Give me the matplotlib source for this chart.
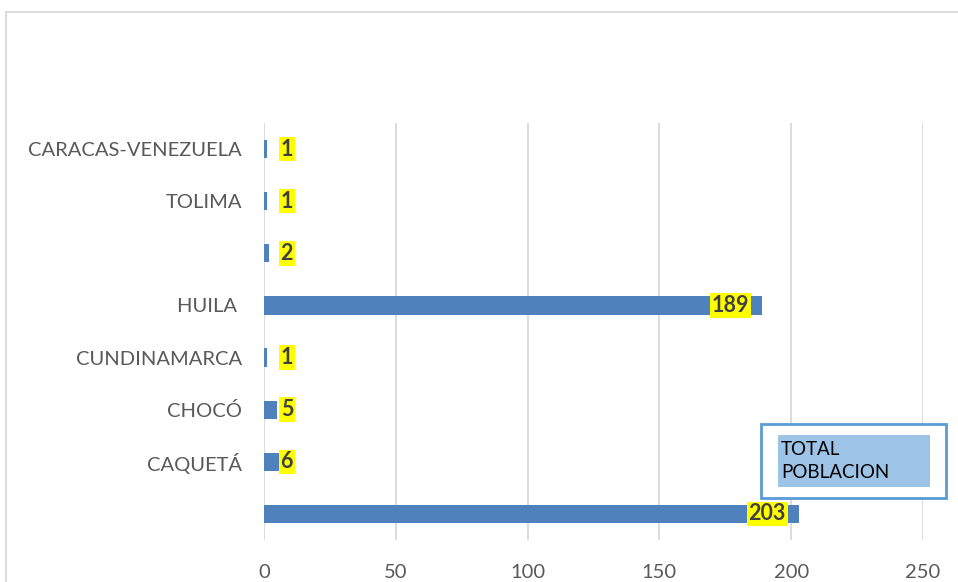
import matplotlib
matplotlib.use("Agg")
import matplotlib.pyplot as plt
from matplotlib.patches import Rectangle
from matplotlib.lines import Line2D

categories = ["", "CAQUETÁ", "CHOCÓ", "CUNDINAMARCA", "HUILA ", "", "TOLIMA", "CARACAS-VENEZUELA"]
values = [203, 6, 5, 1, 189, 2, 1, 1]
xticks = [0, 50, 100, 150, 200, 250]
legend_label = "TOTAL\nPOBLACION"

W, H = 958, 582
fig = plt.figure(figsize=(W / 100, H / 100), dpi=100)
font = "Lato"

ax = fig.add_axes([264 / W, (H - 540) / H, (923 - 264) / W, (540 - 123) / H])
ypos = list(range(len(categories)))
ax.barh(ypos, values, height=0.35, color="#4f81bd", zorder=3)
ax.set_xlim(0, 250)
ax.set_ylim(-0.5, len(categories) - 0.5)
ax.set_xticks(xticks)
ax.set_xticklabels([str(t) for t in xticks], fontsize=14.5, color="#595959", family=font)
ax.set_yticks(ypos)
ax.set_yticklabels(categories, fontsize=14.5, color="#595959", family=font)
ax.tick_params(axis="both", length=0)
ax.tick_params(axis="x", pad=17)
ax.tick_params(axis="y", pad=16)
ax.grid(axis="x", color="#d9d9d9", linewidth=1.3, zorder=0)
for s in ax.spines.values():
    s.set_visible(False)

for y, v in zip(ypos, values):
    if v > 50:
        ax.text(v - 5, y, str(v), ha="right", va="center", fontsize=15.5, fontweight="bold",
                color="#404040", family=font, zorder=5,
                bbox=dict(facecolor="#ffff00", edgecolor="none", pad=1.2))
    else:
        ax.text(max(v, 6.3), y, str(v), ha="left", va="center", fontsize=15.5, fontweight="bold",
                color="#404040", family=font, zorder=5,
                bbox=dict(facecolor="#ffff00", edgecolor="none", pad=1.2))

# outer chart border (left and top visible)
fig.add_artist(Line2D([6 / W, 6 / W], [0, 1 - 12 / H], transform=fig.transFigure, color="#d9d9d9", lw=1.3))
fig.add_artist(Line2D([6 / W, 1], [1 - 12 / H, 1 - 12 / H], transform=fig.transFigure, color="#d9d9d9", lw=1.3))

# legend box
fig.add_artist(Rectangle((761 / W, (H - 498) / H), (946 - 761) / W, (498 - 424) / H,
                         transform=fig.transFigure, facecolor="white", edgecolor="#5b9bd5", lw=2, zorder=10))
fig.add_artist(Rectangle((778 / W, (H - 487) / H), (930 - 778) / W, (487 - 435) / H,
                         transform=fig.transFigure, facecolor="#9dc3e6", edgecolor="none", zorder=11))
fig.text(781 / W, (H - 461) / H, legend_label, ha="left", va="center", fontsize=13.5,
         color="black", family=font, linespacing=1.4, zorder=12)

fig.savefig("out.png", dpi=100)
